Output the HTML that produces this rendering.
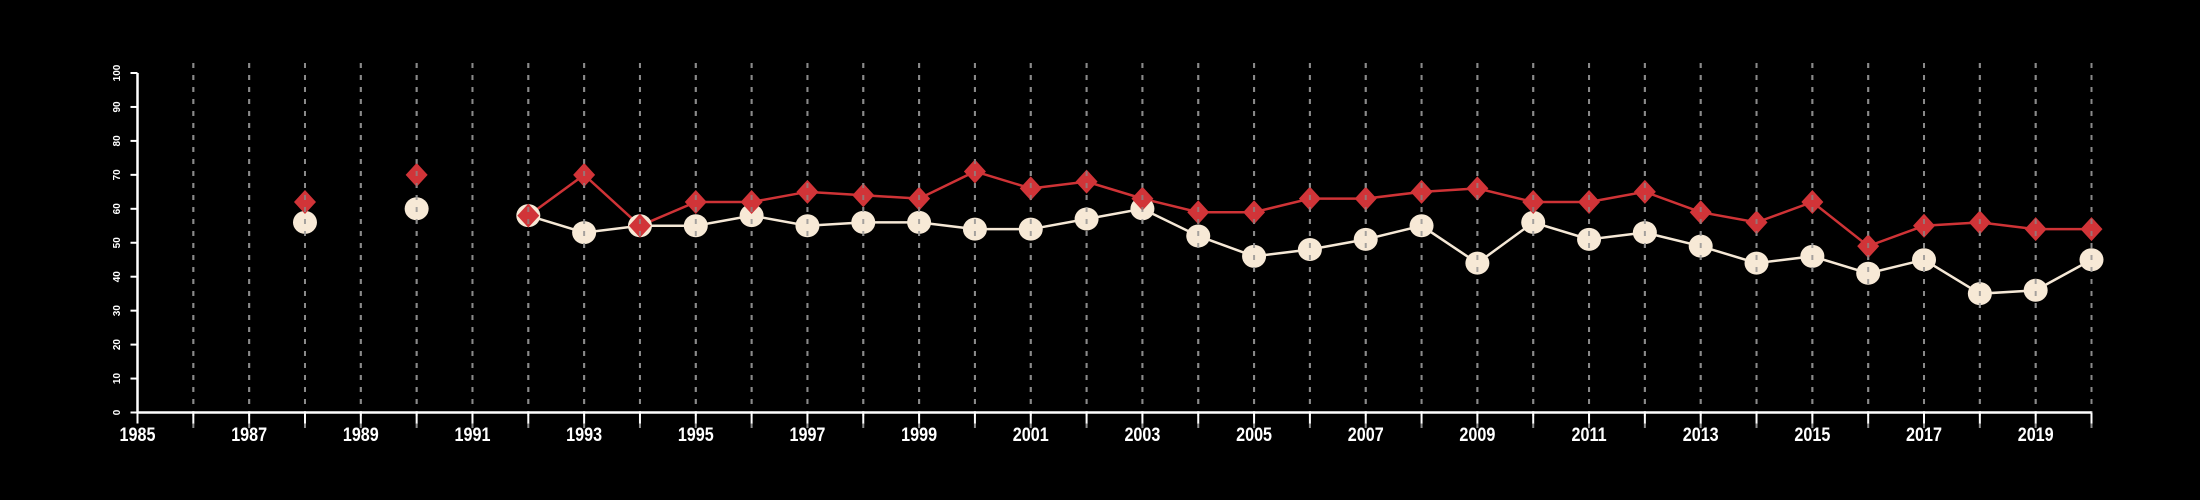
<!DOCTYPE html>
<html><head><meta charset="utf-8"><style>
html,body{margin:0;padding:0;background:#000;}
svg{display:block;}
</style></head><body>
<svg id="chart" width="2200" height="500" xmlns="http://www.w3.org/2000/svg">
<rect width="2200" height="500" fill="#000"/>
<g id="grid"></g>
<g id="lines"></g>
<g id="marks"></g>
<g id="gridTop"></g>
<g id="axes"></g>
</svg>
<script>
const years = [1988,1990,1992,1993,1994,1995,1996,1997,1998,1999,2000,2001,2002,2003,2004,2005,2006,2007,2008,2009,2010,2011,2012,2013,2014,2015,2016,2017,2018,2019,2020];
const redValues = [62,70,58,70,55,62,62,65,64,63,71,66,68,63,59,59,63,63,65,66,62,62,65,59,56,62,49,55,56,54,54];
const creamValues = [56,60,58,53,55,55,58,55,56,56,54,54,57,60,52,46,48,51,55,44,56,51,53,49,44,46,41,45,35,36,45];
const yTicks = [0,10,20,30,40,50,60,70,80,90,100];
const xMin = 1985, xMax = 2020;

const NS = "http://www.w3.org/2000/svg";
const x0 = 137.5, x1 = 2091.5, y0 = 412.5, y1 = 73;
function xs(v){ return x0 + (v - xMin) / (xMax - xMin) * (x1 - x0); }
function ys(v){ return y0 - v / 100 * (y0 - y1); }
function el(tag, attrs, parent){ const e = document.createElementNS(NS, tag); for (const k in attrs) e.setAttribute(k, attrs[k]); parent.appendChild(e); return e; }

const grid = document.getElementById('grid'), gridTop = document.getElementById('gridTop');
const lines = document.getElementById('lines'), marks = document.getElementById('marks'), axes = document.getElementById('axes');

for (let yr = xMin + 1; yr <= xMax; yr++) {
  const g = el('line', {x1: xs(yr), x2: xs(yr), y1: 63, y2: 428, stroke: '#8a8a8a', 'stroke-width': 2, 'stroke-dasharray': '5,7'}, grid);
  
  
}

function segs(vals){
  const out = []; let cur = [];
  for (let i = 0; i < years.length; i++) {
    if (i > 0 && years[i] - years[i-1] > 1) { if (cur.length) out.push(cur); cur = []; }
    cur.push([xs(years[i]), ys(vals[i])]);
  }
  if (cur.length) out.push(cur);
  return out;
}
function drawLine(vals, color, name){
  segs(vals).forEach(s => {
    if (s.length < 2) return;
    const p = el('polyline', {points: s.map(q => q.join(',')).join(' '), fill: 'none', stroke: color, 'stroke-width': 2.5}, lines);
    
    
  });
}
drawLine(creamValues, '#f5e8d6', 'cream-series-line');
drawLine(redValues, '#cf3336', 'red-series-line');

for (let i = 0; i < years.length; i++) {
  const c = el('ellipse', {cx: xs(years[i]), cy: ys(creamValues[i]), rx: 12, ry: 11.5, fill: '#f7e9d6'}, marks);
  
  
}
for (let i = 0; i < years.length; i++) {
  const cx = xs(years[i]), cy = ys(redValues[i]);
  const d = el('polygon', {points: `${cx},${cy-12} ${cx+11},${cy} ${cx},${cy+12} ${cx-11},${cy}`, fill: '#d13438'}, marks);
  
  
}
for (let yr = xMin + 1; yr <= xMax; yr++) {
  const g = el('line', {x1: xs(yr), x2: xs(yr), y1: 63, y2: 412, stroke: '#8a8a8a', 'stroke-width': 2, 'stroke-dasharray': '5,7', opacity: 0.75}, gridTop);
  
  
}

const xa = el('line', {x1: x0, x2: x1, y1: y0, y2: y0, stroke: '#fff', 'stroke-width': 2.5}, axes);


const ya = el('line', {x1: x0, x2: x0, y1: y0, y2: y1, stroke: '#fff', 'stroke-width': 2.5}, axes);



for (let yr = xMin; yr <= xMax; yr++) {
  const t = el('line', {x1: xs(yr), x2: xs(yr), y1: y0, y2: y0 + 11, stroke: '#fff', 'stroke-width': 2}, axes);
  
  
  if ((yr - xMin) % 2 === 0) {
    const tx = el('text', {x: 0, y: 0, fill: '#fff', 'font-family': 'Liberation Sans, sans-serif', 'font-weight': 'bold', 'font-size': 19, 'text-anchor': 'middle', transform: `translate(${xs(yr)},441) scale(0.85,1)`}, axes);
    tx.textContent = yr;
    
    
  }
}
yTicks.forEach(v => {
  const t = el('line', {x1: x0 - 7, x2: x0, y1: ys(v), y2: ys(v), stroke: '#fff', 'stroke-width': 2}, axes);
  
  
  const tx = el('text', {x: 0, y: 0, fill: '#fff', 'font-family': 'Liberation Sans, sans-serif', 'font-weight': 'bold', 'font-size': 10, 'text-anchor': 'middle', transform: `translate(120,${ys(v)}) rotate(-90)`}, axes);
  tx.textContent = v;
  
  
});
</script>
</body></html>
